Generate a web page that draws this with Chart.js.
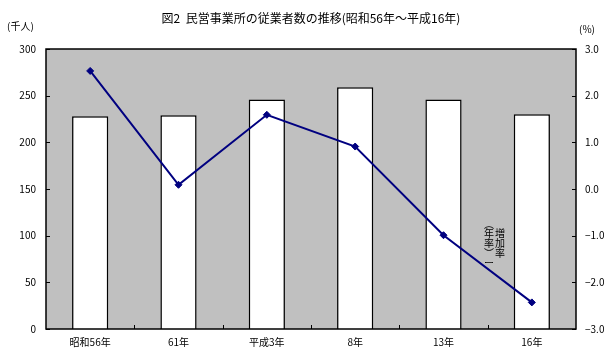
<!DOCTYPE html>
<html>
<head>
<meta charset="utf-8">
<script src="https://cdn.jsdelivr.net/npm/chart.js@4/dist/chart.umd.min.js"></script>
<style>
html,body{margin:0;padding:0;background:#fff;}
#wrap{width:616px;height:356px;}
</style>
</head>
<body>
<div id="wrap"><canvas id="c" width="616" height="356"></canvas></div>
<script>
const categories = ['昭和56年','61年','平成3年','8年','13年','16年'];
const employees = [228, 229, 246, 259, 246, 230];      // 千人
const growthRate = [2.53, 0.09, 1.59, 0.91, -0.99, -2.43]; // %
const leftTicks = [0, 50, 100, 150, 200, 250, 300];
const rightTicks = [-3, -2, -1, 0, 1, 2, 3];
const titleText = '図2  民営事業所の従業者数の推移(昭和56年～平成16年)';

const FONT = "'Noto Sans CJK JP', 'DejaVu Sans', sans-serif";

const deco = {
  id: 'deco',
  beforeDatasetsDraw(chart) {
    const {ctx, chartArea: a} = chart;
    ctx.save();
    ctx.fillStyle = '#c0c0c0';
    ctx.fillRect(a.left, a.top, a.right - a.left, a.bottom - a.top);
    ctx.restore();
  },
  afterDatasetsDraw(chart) {
    const {ctx, chartArea: a, scales} = chart;
    ctx.save();
    ctx.strokeStyle = '#000';
    ctx.lineWidth = 1.5;
    ctx.strokeRect(a.left, a.top, a.right - a.left, a.bottom - a.top);
    ctx.lineWidth = 1;
    ctx.beginPath();
    leftTicks.forEach(v => {
      const y = Math.round(scales.y.getPixelForValue(v)) + 0.5;
      ctx.moveTo(a.left, y); ctx.lineTo(a.left + 4, y);
    });
    rightTicks.forEach(v => {
      const y = Math.round(scales.y1.getPixelForValue(v)) + 0.5;
      ctx.moveTo(a.right - 4, y); ctx.lineTo(a.right, y);
    });
    for (let i = 1; i < categories.length; i++) {
      const x = Math.round((scales.x.getPixelForValue(i - 1) + scales.x.getPixelForValue(i)) / 2) + 0.5;
      ctx.moveTo(x, a.bottom); ctx.lineTo(x, a.bottom - 4);
    }
    ctx.stroke();

    // texts
    ctx.fillStyle = '#000';
    ctx.textBaseline = 'middle';
    ctx.textAlign = 'center';
    ctx.font = '12px ' + FONT;
    ctx.fillText(titleText, 311, 18);
    ctx.font = '10px ' + FONT;
    ctx.textAlign = 'left';
    ctx.fillText('(千人)', 7, 26);
    ctx.fillText('(%)', 579, 29);

    // vertical label
    ctx.textAlign = 'center';
    const col1 = ['増','加','率'];
    col1.forEach((ch, i) => ctx.fillText(ch, 500, 233 + i * 10));
    const col2 = ['︵','年','率','︶','ー'];
    const ys = [224, 233, 243, 253, 263];
    col2.forEach((ch, i) => ctx.fillText(ch, 489, ys[i]));
    ctx.restore();
  }
};

new Chart(document.getElementById('c'), {
  data: {
    labels: categories,
    datasets: [
      {
        type: 'line',
        data: growthRate,
        yAxisID: 'y1',
        borderColor: '#000080',
        backgroundColor: '#000080',
        borderWidth: 2,
        pointStyle: 'rectRot',
        pointRadius: 3.5,
        pointBorderWidth: 1,
        tension: 0,
        order: 0
      },
      {
        type: 'bar',
        data: employees,
        yAxisID: 'y',
        backgroundColor: '#ffffff',
        borderColor: '#000000',
        borderWidth: 1.5,
        borderSkipped: 'bottom',
        categoryPercentage: 1,
        barPercentage: 0.41,
        order: 1
      }
    ]
  },
  options: {
    responsive: false,
    animation: false,
    devicePixelRatio: 1,
    layout: {padding: {top: 49, left: 0, right: 0, bottom: 0}},
    plugins: {legend: {display: false}, tooltip: {enabled: false}, title: {display: false}},
    scales: {
      x: {
        grid: {display: false, drawTicks: false},
        border: {display: false},
        ticks: {color: '#000', font: {family: FONT, size: 10}, padding: 7, maxRotation: 0},
        afterFit: s => { s.height = 27; }
      },
      y: {
        position: 'left',
        min: 0, max: 300,
        afterBuildTicks: s => { s.ticks = leftTicks.map(v => ({value: v})); },
        grid: {display: false, drawTicks: false},
        border: {display: false},
        ticks: {color: '#000', font: {family: FONT, size: 10}, padding: 10},
        afterFit: s => { s.width = 46; }
      },
      y1: {
        position: 'right',
        min: -3, max: 3,
        afterBuildTicks: s => { s.ticks = rightTicks.map(v => ({value: v})); },
        grid: {display: false, drawTicks: false},
        border: {display: false},
        ticks: {color: '#000', font: {family: FONT, size: 10}, padding: 9,
          callback: v => (v < 0 ? '−' + Math.abs(v).toFixed(1) : v.toFixed(1))},
        afterFit: s => { s.width = 40; }
      }
    }
  },
  plugins: [deco]
});
</script>
</body>
</html>
